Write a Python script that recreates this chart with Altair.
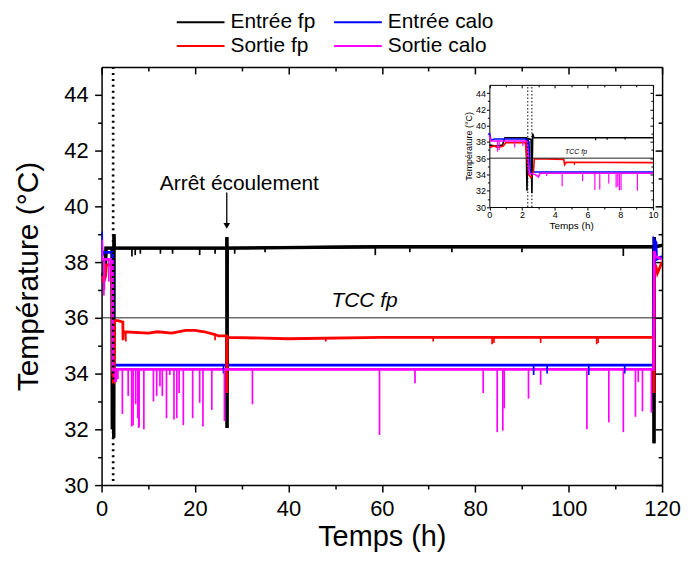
import altair as alt
import pandas as pd

FONT = "Liberation Sans"
W, H = 563, 420

# ---------------- data ----------------
series_names = ["Entrée fp", "Entrée calo", "Sortie fp", "Sortie calo"]
series_colors = ["#000000", "#0000ff", "#ff0000", "#ff00ff"]

# baselines (time in h, temperature in °C)
entree_fp_t = [0, 0.4, 0.8, 0.95, 2.25, 2.3, 2.35, 2.55, 2.6, 2.65, 2.72, 10, 26.8, 26.83, 26.86, 26.9, 60, 118.2, 118.27, 118.32, 118.45, 120]
entree_fp_v = [37.6, 37.5, 37.6, 38.5, 38.5, 32.0, 38.4, 38.3, 31.7, 39.0, 38.5, 38.5, 38.5, 38.9, 32.05, 38.5, 38.55, 38.55, 31.5, 38.9, 38.55, 38.6]

entree_calo_t = [0, 0.1, 0.3, 2.3, 2.42, 2.5, 10, 118.2, 118.3, 118.7, 118.8, 120]
entree_calo_v = [39.1, 38.2, 38.35, 38.35, 38.0, 34.3, 34.3, 34.3, 38.8, 38.7, 38.1, 38.2]

sortie_fp_t = [0, 0.3, 0.5, 0.85, 1.0, 2.2, 2.3, 2.4, 2.55, 2.7, 2.75, 3.5, 4.55, 4.6, 4.7, 10, 12, 15, 18, 20, 22, 24.3, 25, 26.8, 26.83, 26.9, 40, 60, 118.2, 118.27, 118.35, 118.6, 119, 120]
sortie_fp_v = [37.3, 37.5, 37.3, 37.5, 37.9, 37.9, 36.0, 34.0, 33.6, 34.5, 35.9, 35.9, 35.85, 35.2, 35.5, 35.45, 35.5, 35.45, 35.55, 35.55, 35.5, 35.4, 35.35, 35.35, 33.3, 35.3, 35.25, 35.3, 35.3, 33.3, 37.5, 37.9, 37.6, 38.0]

sortie_calo_t = [0, 0.1, 2.3, 2.42, 2.8, 3.0, 3.1, 10, 118.2, 118.3, 118.6, 120]
sortie_calo_v = [38.8, 38.1, 38.1, 34.1, 34.0, 33.7, 34.15, 34.15, 34.15, 38.4, 38.2, 38.1]

# short downward spikes: time, start level, end value
entree_fp_spike_t = [6.5, 7.2, 8.3, 12.6, 15.2, 21.0, 24.3, 28.5, 35.0, 58.6, 66.0, 75.0, 90.0, 111.7]
entree_fp_spike_to = [38.2, 38.25, 38.3, 38.3, 38.3, 38.25, 38.3, 38.3, 38.35, 38.25, 38.35, 38.35, 38.35, 38.22]
entree_fp_level = 38.5

entree_calo_spike_t = [26.1, 92.5, 95.4, 104.3, 112.0]
entree_calo_spike_to = [34.0, 33.95, 34.0, 33.95, 34.0]
entree_calo_level = 34.3

sortie_fp_spike_t = [5.2, 24.3, 48.0, 71.0, 83.6, 84.0, 94.0, 106.0, 106.3]
sortie_fp_spike_from = [35.5, 35.4, 35.3, 35.3, 35.3, 35.3, 35.3, 35.3, 35.3]
sortie_fp_spike_to = [35.15, 35.2, 35.15, 35.15, 35.05, 35.1, 35.1, 35.05, 35.1]

sortie_calo_early_t = [0.5, 0.6, 1.55, 2.05]
sortie_calo_early_to = [36.8, 37.0, 37.3, 37.5]
sortie_calo_early_level = 38.1
sortie_calo_spike_t = [3.5, 4.45, 5.7, 6.45, 6.75, 7.3, 7.75, 7.85, 7.95, 8.05, 9.05, 11.1, 11.8, 12.5, 13.0, 13.9, 14.6, 15.5, 16.1, 16.6,
                       17.5, 19.5, 21.0, 21.7, 23.6, 26.3, 32.3, 59.5, 67.1, 81.7, 84.7, 85.9, 86.2, 91.4, 94.0, 103.9, 108.6, 111.7, 114.3, 114.9,
                       115.8, 117.7]
sortie_calo_spike_to = [33.8, 32.55, 33.2, 32.1, 32.15, 32.9, 32.4, 32.5, 32.05, 32.1, 32.0, 33.0, 33.2, 33.55, 33.2, 32.4, 33.95, 32.35, 32.4, 33.3,
                        32.15, 32.4, 32.95, 32.1, 32.7, 32.3, 32.9, 31.8, 33.65, 33.3, 31.9, 31.95, 32.75, 33.1, 33.6, 32.0, 32.25, 31.9, 32.45, 33.7,
                        32.65, 32.6]
sortie_calo_level = 34.15

tcc_level = 36.0
marker_times = [2.35, 2.6]
arret_t = 26.8

x_major = [0, 20, 40, 60, 80, 100, 120]
x_minor = [10, 30, 50, 70, 90, 110]
y_major = [30, 32, 34, 36, 38, 40, 42, 44]
y_minor = [31, 33, 35, 37, 39, 41, 43]
inset_x_major = [0, 2, 4, 6, 8, 10]
inset_x_minor = [1, 3, 5, 7, 9]

# ---------------- tables ----------------
rows = []
for name, ts, vs in [("Entrée fp", entree_fp_t, entree_fp_v),
                     ("Entrée calo", entree_calo_t, entree_calo_v),
                     ("Sortie fp", sortie_fp_t, sortie_fp_v),
                     ("Sortie calo", sortie_calo_t, sortie_calo_v)]:
    for t, v in zip(ts, vs):
        rows.append({"t": t, "v": v, "s": name})
lines_df = pd.DataFrame(rows)
black_df = lines_df[lines_df.s == "Entrée fp"]

srows = []
for t, v in zip(entree_fp_spike_t, entree_fp_spike_to):
    srows.append({"t": t, "v0": entree_fp_level, "v1": v, "s": "Entrée fp"})
for t, v in zip(entree_calo_spike_t, entree_calo_spike_to):
    srows.append({"t": t, "v0": entree_calo_level, "v1": v, "s": "Entrée calo"})
for t, a, v in zip(sortie_fp_spike_t, sortie_fp_spike_from, sortie_fp_spike_to):
    srows.append({"t": t, "v0": a, "v1": v, "s": "Sortie fp"})
for t, v in zip(sortie_calo_early_t, sortie_calo_early_to):
    srows.append({"t": t, "v0": sortie_calo_early_level, "v1": v, "s": "Sortie calo"})
for t, v in zip(sortie_calo_spike_t, sortie_calo_spike_to):
    srows.append({"t": t, "v0": sortie_calo_level, "v1": v, "s": "Sortie calo"})
spikes_df = pd.DataFrame(srows)

inset_lines_df = lines_df[lines_df.t <= 10]
inset_spikes_df = spikes_df[spikes_df.t <= 10]

# ---------------- geometry ----------------
IX0, IX1 = 389.5, 553.8     # inset x range (px inside plot)
IY0, IY1 = 140.7, 18.0      # inset y range (bottom, top)


def tick_size(minor_test, big, small):
    return {"condition": {"test": minor_test, "value": small}, "value": big}


AX = dict(grid=False, domainColor="black", tickColor="black", labelColor="black", titleColor="black",
          labelFont=FONT, titleFont=FONT, titleFontWeight="normal", labelFlush=False, labelOverlap=False)

x_vals = sorted(x_major + x_minor)
y_vals = sorted(y_major + y_minor)
ix_vals = sorted(inset_x_major + inset_x_minor)

main_x_axis = alt.Axis(orient="bottom", values=x_vals, title="Temps (h)",
                       labelExpr="datum.value % 20 == 0 ? datum.label : ''",
                       tickSize=tick_size("datum.value % 20 != 0", 7, 4), tickWidth=1.5, domainWidth=1.5,
                       labelFontSize=22, titleFontSize=29, labelPadding=7, titlePadding=3, **AX)
main_y_axis = alt.Axis(orient="left", values=y_vals, title="Température (°C)",
                       labelExpr="datum.value % 2 == 0 ? datum.label : ''",
                       tickSize=tick_size("datum.value % 2 != 0", 7, 4), tickWidth=1.5, domainWidth=1.5,
                       labelFontSize=22, titleFontSize=30, labelPadding=6.5, titlePadding=20.5, **AX)
main_top_axis = alt.Axis(orient="bottom", offset=-H, values=x_vals, labels=False, title=None,
                         tickSize=tick_size("datum.value % 20 != 0", 7, 4), tickWidth=1.5, domainWidth=1.5, **AX)
main_right_axis = alt.Axis(orient="left", offset=-W, values=y_vals, labels=False, title=None,
                           tickSize=tick_size("datum.value % 2 != 0", 7, 4), tickWidth=1.5, domainWidth=1.5, **AX)

inset_x_axis = alt.Axis(orient="bottom", offset=-(H - IY0), values=ix_vals, title="Temps (h)",
                        labelExpr="datum.value % 2 == 0 ? datum.label : ''",
                        tickSize=tick_size("datum.value % 2 != 0", 3, 2), tickWidth=1, domainWidth=1,
                        labelFontSize=9, titleFontSize=10, labelPadding=1, titlePadding=1, **AX)
inset_y_axis = alt.Axis(orient="left", offset=-IX0, values=y_vals, title="Température (°C)",
                        labelExpr="datum.value % 2 == 0 ? datum.label : ''",
                        tickSize=tick_size("datum.value % 2 != 0", 3, 2), tickWidth=1, domainWidth=1,
                        labelFontSize=9, titleFontSize=9, labelPadding=1, titlePadding=2, **AX)
inset_top_axis = alt.Axis(orient="bottom", offset=-(H - IY1), values=ix_vals, labels=False, title=None,
                          tickSize=tick_size("datum.value % 2 != 0", 3, 2), tickWidth=1, domainWidth=1, **AX)
inset_right_axis = alt.Axis(orient="left", offset=-IX1, values=y_vals, labels=False, title=None,
                            tickSize=tick_size("datum.value % 2 != 0", 3, 2), tickWidth=1, domainWidth=1, **AX)


def mx(field, axis=None):
    return alt.X(field, type="quantitative", scale=alt.Scale(domain=[0, 120], nice=False, zero=False), axis=axis)


def my(field, axis=None):
    return alt.Y(field, type="quantitative", scale=alt.Scale(domain=[30, 45], nice=False, zero=False), axis=axis)


def ix(field, axis=None):
    return alt.X(field, type="quantitative",
                 scale=alt.Scale(domain=[0, 10], range=[IX0, IX1], nice=False, zero=False), axis=axis)


def iy(field, axis=None):
    return alt.Y(field, type="quantitative",
                 scale=alt.Scale(domain=[30, 45], range=[IY0, IY1], nice=False, zero=False), axis=axis)


legend = alt.Legend(title=None, orient="none", legendX=74.5, legendY=-58, columns=2, direction="horizontal",
                    labelFontSize=21, labelFont=FONT, labelColor="black", symbolType="M-1,0H3",
                    symbolSize=576, symbolStrokeWidth=2, labelOffset=29, columnPadding=14, rowPadding=1, padding=0)
color = alt.Color("s:N", scale=alt.Scale(domain=series_names, range=series_colors), legend=legend)
color2 = alt.Color("s:N", scale=alt.Scale(domain=series_names, range=series_colors))

# ---------------- main layers ----------------
black_under = alt.Chart(black_df).mark_line(strokeWidth=3.4, clip=True).encode(
    x=mx("t"), y=my("v"), color=color2)
main_lines = alt.Chart(lines_df).mark_line(strokeWidth=2.8, clip=True).encode(
    x=mx("t", main_x_axis), y=my("v", main_y_axis), color=color)
main_spikes = alt.Chart(spikes_df).mark_rule(strokeWidth=1.7).encode(
    x=mx("t"), y=my("v0"), y2="v1", color=color2)

tcc_df = pd.DataFrame({"y": [tcc_level]})
main_tcc = alt.Chart(tcc_df).mark_rule(color="#222222", strokeWidth=1).encode(y=my("y", main_right_axis))
marker_df = pd.DataFrame({"t": marker_times})
main_marker = alt.Chart(marker_df).mark_rule(color="black", strokeWidth=1.5, strokeDash=[2, 4]).encode(
    x=mx("t", main_top_axis))

tcc_text_df = pd.DataFrame({"t": [56.3], "v": [36.4], "label": ["TCC fp"]})
main_tcc_text = alt.Chart(tcc_text_df).mark_text(font=FONT, fontSize=21, fontStyle="italic", baseline="alphabetic",
                                                 align="center", color="black").encode(
    x=mx("t"), y=my("v"), text="label:N")

arr_text_df = pd.DataFrame({"t": [29.5], "v": [40.6], "label": ["Arrêt écoulement"]})
arr_text = alt.Chart(arr_text_df).mark_text(font=FONT, fontSize=21, baseline="alphabetic", align="center",
                                            color="black").encode(x=mx("t"), y=my("v"), text="label:N")
arr_line_df = pd.DataFrame({"t": [arret_t], "v0": [40.5], "v1": [39.4]})
arr_line = alt.Chart(arr_line_df).mark_rule(color="black", strokeWidth=1.3).encode(
    x=mx("t"), y=my("v0"), y2="v1")
arr_head_df = pd.DataFrame({"t": [arret_t], "v": [39.3]})
arr_head = alt.Chart(arr_head_df).mark_point(shape="triangle-down", filled=True, size=45, color="black",
                                             opacity=1).encode(x=mx("t"), y=my("v"))

# ---------------- inset layers ----------------
inset_lines = alt.Chart(inset_lines_df).mark_line(strokeWidth=1.6).encode(
    x=ix("t", inset_x_axis), y=iy("v", inset_y_axis), color=color2)
inset_spikes = alt.Chart(inset_spikes_df).mark_rule(strokeWidth=1.2).encode(
    x=ix("t"), y=iy("v0"), y2="v1", color=color2)
inset_tcc_df = pd.DataFrame({"t0": [0], "t1": [10], "y": [tcc_level]})
inset_tcc = alt.Chart(inset_tcc_df).mark_rule(color="#222222", strokeWidth=1).encode(
    x=ix("t0", inset_top_axis), x2="t1", y=iy("y", inset_right_axis))
inset_marker_df = pd.DataFrame({"t": marker_times, "y0": [30, 30], "y1": [45, 45]})
inset_marker = alt.Chart(inset_marker_df).mark_rule(color="black", strokeWidth=1, strokeDash=[1.5, 2]).encode(
    x=ix("t"), y=iy("y0"), y2="y1")
inset_text_df = pd.DataFrame({"t": [5.3], "v": [36.5], "label": ["TCC fp"]})
inset_text = alt.Chart(inset_text_df).mark_text(font=FONT, fontSize=7, fontStyle="italic", baseline="alphabetic",
                                                align="center", color="black").encode(
    x=ix("t"), y=iy("v"), text="label:N")

chart = alt.layer(
    black_under, main_lines, main_spikes, main_tcc, main_marker, main_tcc_text, arr_text, arr_line, arr_head,
    inset_lines, inset_spikes, inset_tcc, inset_marker, inset_text
).resolve_scale(x="independent", y="independent").properties(
    width=W, height=H, background="white",
    padding={"left": 5, "top": 0, "right": 0, "bottom": 0}
).configure_view(stroke=None)

chart.save("out.html", embed_options={"renderer": "svg", "actions": False})
